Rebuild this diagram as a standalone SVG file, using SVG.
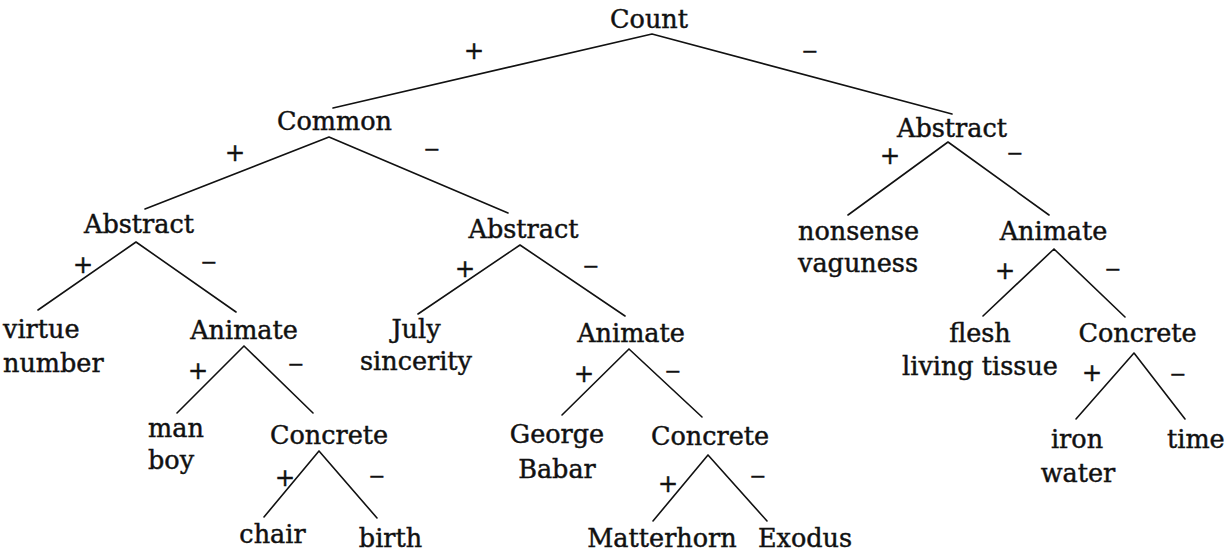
<svg xmlns="http://www.w3.org/2000/svg" width="1228" height="555" viewBox="0 0 1228 555">
<style>
.t{font-family:"DejaVu Serif","Liberation Serif",serif;font-size:25.5px;fill:#111;stroke:#111;stroke-width:0.45}
.m{text-anchor:middle}
.p{font-family:"DejaVu Serif","Liberation Serif",serif;font-size:24px;fill:#111;stroke:#111;stroke-width:0.5;text-anchor:middle}
.n{font-family:"DejaVu Serif","Liberation Serif",serif;font-size:20px;fill:#111;stroke:#111;stroke-width:0.6;text-anchor:middle}
.e{stroke:#111;stroke-width:1.6;fill:none;stroke-linecap:round}
</style>
<rect width="1228" height="555" fill="#fff"/>
<g id="connectors">
<path class="e" d="M652,34L333,108M652,34L952,114"/>
<path class="e" d="M329,137L145,209M329,137L508,213"/>
<path class="e" d="M948,142L848,215M948,142L1049,215"/>
<path class="e" d="M136,242L38,310M136,242L236,312"/>
<path class="e" d="M520,245L418,314M520,245L625,316"/>
<path class="e" d="M1054,249L983,316M1054,249L1125,317"/>
<path class="e" d="M244,346L177,413M244,346L313,413"/>
<path class="e" d="M629,349L562,415M629,349L702,417"/>
<path class="e" d="M1134,353L1076,419M1134,353L1185,419"/>
<path class="e" d="M319,451L264,517M319,451L377,518"/>
<path class="e" d="M708,455L653,521M708,455L767,521"/>
<text class="p" x="474" y="59">+</text><text class="n" x="810" y="58">−</text>
<text class="p" x="235" y="161">+</text><text class="n" x="432" y="156">−</text>
<text class="p" x="890" y="164">+</text><text class="n" x="1015" y="160">−</text>
<text class="p" x="83" y="273">+</text><text class="n" x="209" y="269">−</text>
<text class="p" x="465" y="277">+</text><text class="n" x="591" y="273">−</text>
<text class="p" x="1005" y="279">+</text><text class="n" x="1113" y="276">−</text>
<text class="p" x="198" y="379">+</text><text class="n" x="296" y="371">−</text>
<text class="p" x="584" y="382">+</text><text class="n" x="673" y="378">−</text>
<text class="p" x="1092" y="381">+</text><text class="n" x="1178" y="381">−</text>
<text class="p" x="285" y="486">+</text><text class="n" x="377" y="483">−</text>
<text class="p" x="668" y="492">+</text><text class="n" x="758" y="483">−</text>
</g>
<g id="count"><text class="t m" x="649" y="28">Count</text></g>
<g id="common"><text class="t m" x="334.5" y="130">Common</text></g>
<g id="abstract-r"><text class="t m" x="952" y="137">Abstract</text></g>
<g id="abstract-l"><text class="t m" x="139" y="233">Abstract</text></g>
<g id="abstract-m"><text class="t m" x="523.5" y="238">Abstract</text></g>
<g id="nonsense"><text class="t" x="798" y="240">nonsense</text><text class="t" x="798" y="272">vaguness</text></g>
<g id="animate-r"><text class="t m" x="1053.5" y="240">Animate</text></g>
<g id="virtue"><text class="t" x="3" y="338">virtue</text><text class="t" x="3" y="372">number</text></g>
<g id="animate-l"><text class="t m" x="244" y="339">Animate</text></g>
<g id="july"><text class="t m" x="416" y="338">July</text><text class="t m" x="416" y="370">sincerity</text></g>
<g id="animate-m"><text class="t m" x="631" y="342">Animate</text></g>
<g id="flesh"><text class="t m" x="980" y="342">flesh</text><text class="t m" x="980" y="375">living tissue</text></g>
<g id="concrete-r"><text class="t m" x="1137.5" y="342">Concrete</text></g>
<g id="man"><text class="t" x="148" y="437">man</text><text class="t" x="148" y="469">boy</text></g>
<g id="concrete-l"><text class="t m" x="329" y="444">Concrete</text></g>
<g id="george"><text class="t m" x="557" y="443">George</text><text class="t m" x="557" y="478">Babar</text></g>
<g id="concrete-m"><text class="t m" x="710" y="445">Concrete</text></g>
<g id="iron"><text class="t m" x="1077" y="448">iron</text><text class="t m" x="1078" y="482">water</text></g>
<g id="time"><text class="t" x="1167" y="448">time</text></g>
<g id="chair"><text class="t m" x="272.5" y="543">chair</text></g>
<g id="birth"><text class="t m" x="390.5" y="547">birth</text></g>
<g id="matterhorn"><text class="t m" x="662" y="547">Matterhorn</text></g>
<g id="exodus"><text class="t m" x="805" y="547">Exodus</text></g>
</svg>
